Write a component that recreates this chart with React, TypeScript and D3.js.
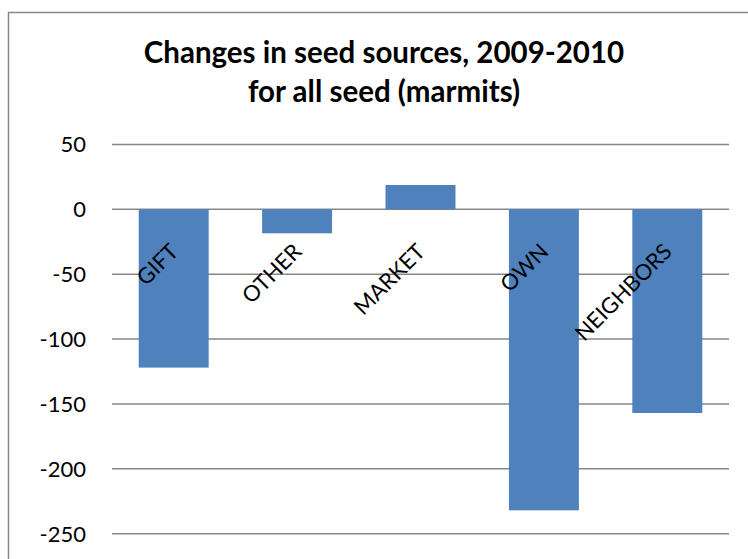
import React from "react";
import * as d3 from "d3";

const categories = ["GIFT", "OTHER", "MARKET", "OWN", "NEIGHBORS"];
const values = [-122, -18.5, 18.7, -232, -157];
const yTicks = [50, 0, -50, -100, -150, -200, -250];
const titleLines = ["Changes in seed sources, 2009-2010", "for all seed (marmits)"];

const W = 748;
const H = 559;
const FONT = "Lato, 'Open Sans', sans-serif";

export default function App() {
  const x = d3
    .scaleBand<string>()
    .domain(categories)
    .range([112, 729])
    .paddingInner(0.433)
    .paddingOuter(0.2165);
  const y = d3.scaleLinear().domain([-250, 50]).range([533.7, 144.4]);

  return (
    <svg
      width={W}
      height={H}
      style={{ position: "absolute", left: 0, top: 0, background: "#fff" }}
    >
      <rect x={8.5} y={12.5} width={W + 10} height={H + 10} fill="#fff" stroke="#878787" strokeWidth={1.5} />
      {titleLines.map((t, i) => (
        <text
          key={i}
          x={384}
          y={63.3 + i * 38.4}
          textAnchor="middle"
          fontFamily={FONT}
          fontWeight="bold"
          fontSize={29.5}
          fill="#000"
        >
          {t}
        </text>
      ))}
      {yTicks.map((t) => (
        <g key={t}>
          <line x1={112} x2={729} y1={y(t)} y2={y(t)} stroke="#878787" strokeWidth={1.5} />
          <text
            x={86}
            y={y(t)}
            dy="0.36em"
            textAnchor="end"
            fontFamily={FONT}
            fontSize={22}
            fill="#000"
          >
            {t}
          </text>
        </g>
      ))}
      {categories.map((c, i) => {
        const v = values[i];
        return (
          <rect
            key={c}
            x={x(c)}
            width={x.bandwidth()}
            y={y(Math.max(0, v))}
            height={Math.abs(y(v) - y(0))}
            fill="#4F81BD"
          />
        );
      })}
      {categories.map((c) => {
        const cx = (x(c) as number) + x.bandwidth() / 2;
        const ax = cx + 6;
        const ay = 253;
        return (
          <text
            key={c}
            x={ax}
            y={ay}
            transform={`rotate(-45, ${ax}, ${ay})`}
            textAnchor="end"
            fontFamily={FONT}
            fontSize={22}
            fill="#000"
          >
            {c}
          </text>
        );
      })}
    </svg>
  );
}
